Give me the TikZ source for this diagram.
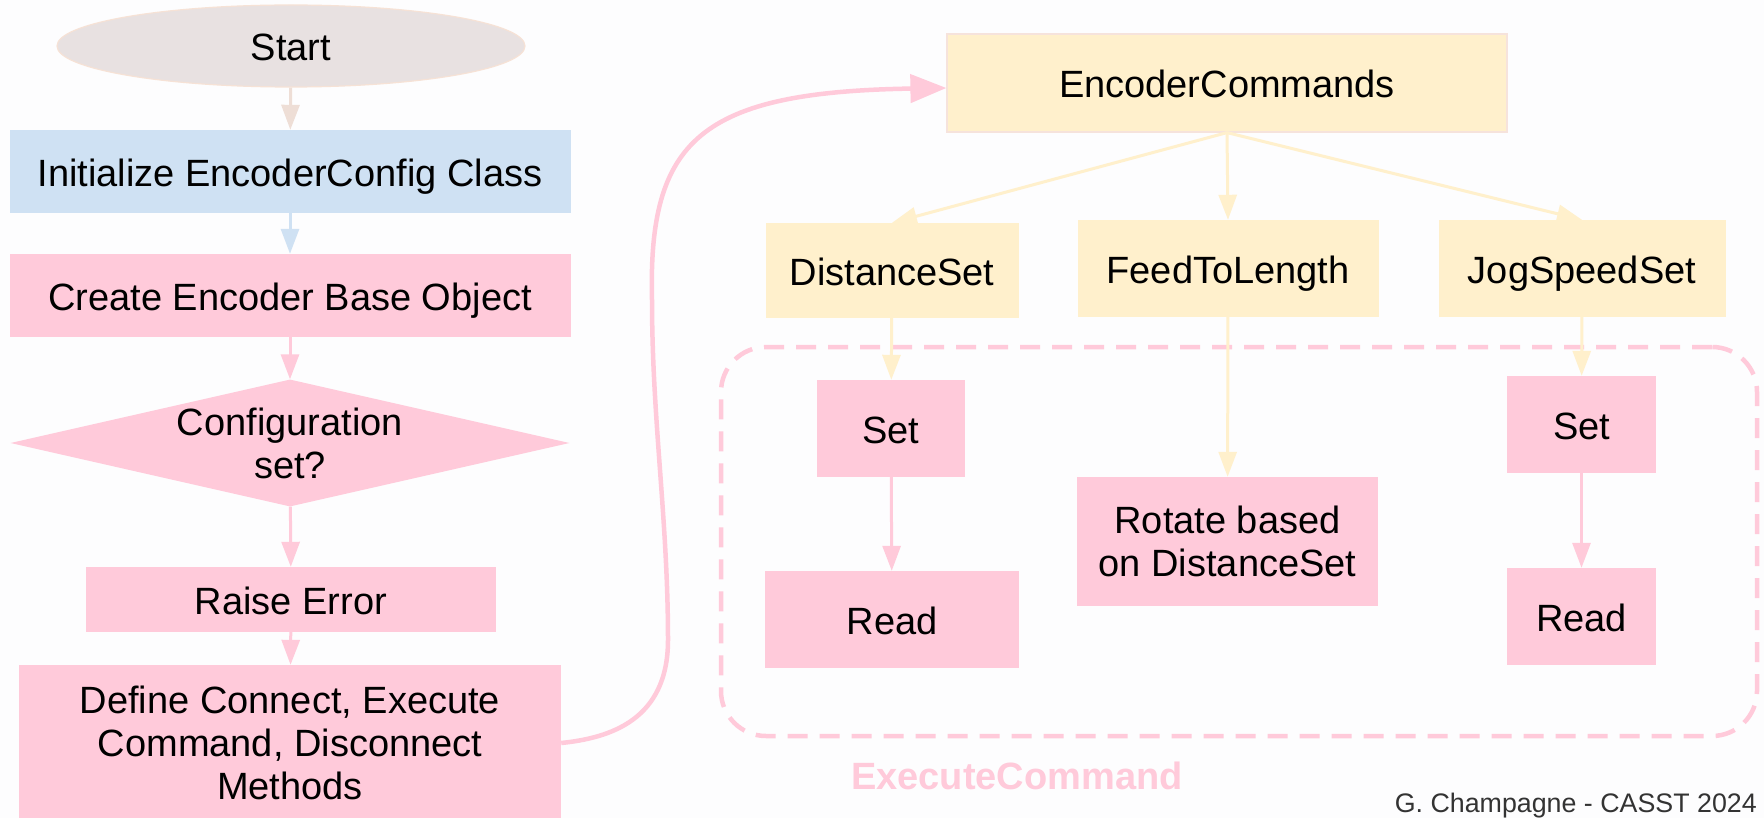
\documentclass[tikz,border=0pt]{standalone}
\usepackage{fontspec}
\setmainfont{Liberation Sans}
\usetikzlibrary{arrows.meta,shapes.geometric,calc}

\definecolor{bgc}{HTML}{FDFDFE}
\definecolor{pinkf}{HTML}{FFCADA}
\definecolor{yelf}{HTML}{FFF0CC}
\definecolor{bluef}{HTML}{CFE1F3}
\definecolor{startf}{HTML}{E8E1E1}
\definecolor{startd}{HTML}{F6E2D6}
\definecolor{startarr}{HTML}{EEDED6}
\definecolor{encd}{HTML}{F6E3DC}
\definecolor{footc}{HTML}{333333}

\begin{document}
\begin{tikzpicture}[x=1pt,y=-1pt,
  every node/.style={font=\fontsize{38}{43}\selectfont, text=black, align=center, inner sep=0pt},
  oneline/.style={text height=30pt, text depth=0pt},
  pinkbox/.style={rectangle, fill=pinkf},
  yelbox/.style={rectangle, fill=yelf},
  bluebox/.style={rectangle, fill=bluef},
  startnode/.style={ellipse, fill=startf, draw=startd, line width=1.2pt},
  decision/.style={diamond, fill=pinkf},
  arr/.style={line width=3pt, -{Triangle[length=25pt,width=18pt]}},
  pinkarr/.style={arr, draw=pinkf},
  yelarr/.style={arr, draw=yelf},
  curvearr/.style={line width=4.5pt, draw=pinkf, -{Triangle[length=36pt,width=28pt]}},
  cluster/.style={rectangle, draw=pinkf, line width=4.5pt, dash pattern=on 20pt off 12pt, rounded corners=45pt}
]
\useasboundingbox (0,0) rectangle (1764,818);
\fill[bgc] (0,0) rectangle (1764,818);

% left column: set-up flow
\node[startnode, oneline, minimum width=468pt, minimum height=82pt] (start) at (291,46) {Start};
\node[bluebox, oneline, minimum width=561pt, minimum height=83pt] (init) at (290,171.5) {Initialize EncoderConfig Class};
\node[pinkbox, oneline, minimum width=561pt, minimum height=83pt] (create) at (290,295.5) {Create Encoder Base Object};
\node[decision, minimum width=559pt, minimum height=127pt,
      label={[align=center]center:Configuration\\set?}] (cfg) at (290,443) {};
\node[pinkbox, oneline, minimum width=410pt, minimum height=65pt] (raise) at (291,599.5) {Raise Error};
\node[pinkbox, minimum width=542pt, minimum height=156pt] (define) at (290,743) {Define Connect, Execute\\Command, Disconnect\\Methods};

\draw[arr, draw=startarr] (start) -- (init);
\draw[arr, draw=bluef] (init) -- (create);
\draw[pinkarr] (create) -- (cfg);
\draw[pinkarr] (cfg) -- (raise);
\draw[pinkarr] (raise) -- (define);

% command tree
\node[yelbox, oneline, draw=encd, line width=1.2pt, minimum width=560pt, minimum height=98pt] (enc) at (1227,83) {EncoderCommands};
\node[yelbox, oneline, minimum width=253pt, minimum height=95pt] (dist) at (892,270.5) {DistanceSet};
\node[yelbox, oneline, minimum width=301pt, minimum height=97pt] (feed) at (1228,268.5) {FeedToLength};
\node[yelbox, oneline, minimum width=287pt, minimum height=97pt] (jog) at (1582,268.5) {JogSpeedSet};

% ExecuteCommand group
\node[cluster, minimum width=1036pt, minimum height=389pt] (grp) at (1239,541.5) {};
\node[font=\fontsize{38}{44}\selectfont\bfseries, text=pinkf] (grplbl) at (1017,776) {ExecuteCommand};

\node[pinkbox, oneline, minimum width=148pt, minimum height=97pt] (set1) at (891,428.5) {Set};
\node[pinkbox, oneline, minimum width=254pt, minimum height=97pt] (read1) at (892,619.5) {Read};
\node[pinkbox, minimum width=301pt, minimum height=129pt] (rot) at (1227.5,541.5) {Rotate based\\on DistanceSet};
\node[pinkbox, oneline, minimum width=149pt, minimum height=97pt] (set2) at (1581.5,424.5) {Set};
\node[pinkbox, oneline, minimum width=149pt, minimum height=97pt] (read2) at (1581.5,616.5) {Read};

\draw[yelarr] (enc.south) -- (dist.north);
\draw[yelarr] (enc.south) -- (feed.north);
\draw[yelarr] (enc.south) -- (jog.north);
\draw[yelarr] (dist) -- (set1);
\draw[yelarr] (feed) -- (rot);
\draw[yelarr] (jog) -- (set2);
\draw[pinkarr] (set1) -- (read1);
\draw[pinkarr] (set2) -- (read2);

% link from the methods to the command set
\draw[curvearr] (define.east) .. controls (610,738) and (668,720) .. (668,640)
  .. controls (668,520) and (652,420) .. (652,300)
  .. controls (648,140) and (700,92) .. ($(enc.west)+(0,5)$);

\node[font=\fontsize{26.8}{30}\selectfont, text=footc, anchor=base east] (credit) at (1757,812) {G. Champagne - CASST 2024};
\end{tikzpicture}
\end{document}
